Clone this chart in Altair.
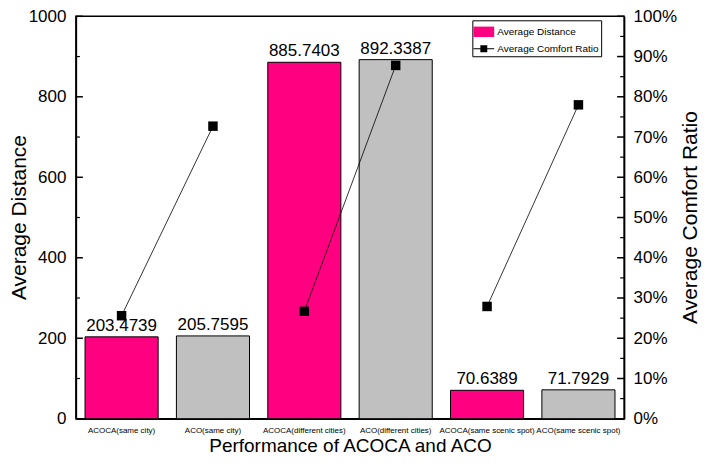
import altair as alt
import pandas as pd

algos = ["ACOCA(same city)", "ACO(same city)", "ACOCA(different cities)",
         "ACO(different cities)", "ACOCA(same scenic spot)", "ACO(same scenic spot)"]
method = ["ACOCA", "ACO", "ACOCA", "ACO", "ACOCA", "ACO"]
pair = ["same city", "same city", "different cities", "different cities",
        "same scenic spot", "same scenic spot"]
distance = [203.4739, 205.7595, 885.7403, 892.3387, 70.6389, 71.7929]
comfort = [0.256, 0.727, 0.267, 0.878, 0.279, 0.780]
series = ["Average Distance", "Average Comfort Ratio"]
dist_ticks = [0, 200, 400, 600, 800, 1000]
dist_minor = [100, 300, 500, 700, 900]
ratio_ticks = [i / 10 for i in range(11)]
ratio_minor = [i / 10 + 0.05 for i in range(10)]

PINK = "#FF0080"
GRAY = "#C0C0C0"
FONT = "Liberation Sans"
W, H = 549, 403

df = pd.DataFrame({"algo": algos, "method": method, "pair": pair,
                   "distance": distance, "comfort": comfort,
                   "label": [f"{d:.4f}" for d in distance]})
leg_df = pd.DataFrame({"series": series})

xenc = alt.X("algo:N", sort=algos,
             scale=alt.Scale(paddingInner=0.2, paddingOuter=0.1),
             axis=alt.Axis(title="Performance of ACOCA and ACO", labelAngle=0,
                           labelFontSize=8, labelPadding=8, ticks=False,
                           domainColor="black", domainWidth=1.5,
                           labelColor="black", titleFontSize=19,
                           titleFontWeight="normal", titleColor="black",
                           titleBaseline="bottom", titleY=37))

base = alt.Chart(df)
DSCALE = alt.Scale(domain=[0, 1000], nice=False)
RSCALE = alt.Scale(domain=[0, 1], nice=False)

yleft = alt.Y("distance:Q", scale=DSCALE,
              axis=alt.Axis(title="Average Distance", values=dist_ticks, format="d",
                            grid=False, labelFontSize=17, labelColor="black",
                            ticks=False, labelPadding=10,
                            domainColor="black", domainWidth=1.5,
                            titleFontSize=21, titleFontWeight="normal",
                            titleColor="black", titleAngle=270,
                            titleBaseline="bottom", titleX=-46, titleY=201))

yright = alt.Y("comfort:Q", scale=RSCALE,
               axis=alt.Axis(title="Average Comfort Ratio", orient="right",
                             values=ratio_ticks, format=".0%",
                             grid=False, labelFontSize=17, labelColor="black",
                             ticks=False, labelPadding=9,
                             domainColor="black", domainWidth=1.5,
                             titleFontSize=21, titleFontWeight="normal",
                             titleColor="black", titleAngle=270,
                             titleBaseline="bottom", titleX=76, titleY=201))

bars = base.mark_bar(stroke="black", strokeWidth=1).encode(
    x=xenc, y=yleft,
    fill=alt.condition(alt.datum.method == "ACOCA", alt.value(PINK), alt.value(GRAY)))

text = base.mark_text(baseline="bottom", dy=-2, fontSize=17, color="black").encode(
    x=xenc, y=yleft, text="label:N")


def inner_ticks(field, vals, yenc, side, length, width):
    d = pd.DataFrame({field: vals})
    if side == "left":
        x0, x1 = 0, length
    else:
        x0, x1 = W - length, W
    return alt.Chart(d).mark_rule(color="black", strokeWidth=width).encode(
        y=yenc, x=alt.value(x0), x2=alt.value(x1))


left_major = inner_ticks("distance", dist_ticks, yleft, "left", 7, 1.5)
left_minor = inner_ticks("distance", dist_minor, yleft, "left", 4, 1.2)
right_major = inner_ticks("comfort", ratio_ticks, yright, "right", 7, 1.5)
right_minor = inner_ticks("comfort", ratio_minor, yright, "right", 4, 1.2)

line = base.mark_line(color="black", strokeWidth=0.8).encode(
    x=xenc, y=yright, detail="pair:N")
points = base.mark_point(shape="square", filled=True, color="black",
                         size=90, opacity=1).encode(x=xenc, y=yright)

legend = alt.Legend(title=None, orient="none", legendX=397, legendY=4,
                    strokeColor="black", fillColor="white", padding=2,
                    labelFontSize=10, labelColor="black", symbolSize=300,
                    symbolStrokeColor="black", symbolStrokeWidth=1,
                    symbolOpacity=1, rowPadding=0, labelOffset=4)
leg_layer = alt.Chart(leg_df).mark_point(filled=True, stroke="black",
                                         strokeWidth=1, opacity=1).encode(
    x=alt.value(-300), y=alt.value(-300),
    color=alt.Color("series:N", scale=alt.Scale(domain=series, range=[PINK, "black"]),
                    legend=legend),
    shape=alt.Shape("series:N",
                    scale=alt.Scale(domain=series,
                                    range=["M-1.2,-0.6H1.2V0.6H-1.2Z",
                                           "M-1.2,-0.06H1.2V0.06H-1.2Z M-0.4,-0.4H0.4V0.4H-0.4Z"]),
                    legend=legend))

chart = alt.layer(
    alt.layer(bars, text, left_major, left_minor),
    alt.layer(line, points, right_major, right_minor, leg_layer),
).resolve_scale(y="independent").properties(
    width=W, height=H,
    padding={"left": 68, "top": 8, "right": 78, "bottom": 41},
    autosize=alt.AutoSizeParams(type="none"),
).configure(font=FONT).configure_view(stroke="black", strokeWidth=1.5)

chart.save("out.html", embed_options={"renderer": "svg", "actions": False})
